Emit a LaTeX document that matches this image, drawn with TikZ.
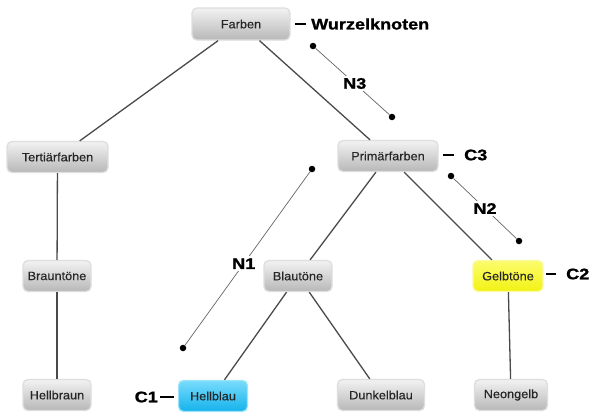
\documentclass[tikz,border=0pt]{standalone}
\usepackage{fontspec}
\setmainfont{Liberation Sans}
\newfontfamily\lblfont{Liberation Sans Bold}[FakeStretch=1.18, FakeBold=1.2]
\newfontfamily\boxfont{Liberation Sans}[FakeStretch=1.06, FakeBold=0.4]
\definecolor{edgecol}{HTML}{4A4A4A}
\definecolor{boxtext}{HTML}{262626}
\begin{document}
\begin{tikzpicture}[x=1pt,y=-1pt,
  box/.style={rounded corners=5pt, minimum height=31pt, inner sep=0pt,
    top color=black!5, bottom color=black!28, draw=black!13, line width=1.3pt,
    font=\boxfont\fontsize{12}{14}\selectfont, text=boxtext},
  bluebox/.style={box, top color={rgb,255:red,120;green,220;blue,252}, bottom color={rgb,255:red,20;green,178;blue,236},
    draw={rgb,255:red,160;green,228;blue,250}, text=black!85},
  yellowbox/.style={box, top color={rgb,255:red,252;green,252;blue,110}, bottom color={rgb,255:red,242;green,242;blue,20},
    draw={rgb,255:red,250;green,250;blue,160}, text=black!85},
  edge/.style={draw=edgecol, line width=1.3pt},
  lbl/.style={font=\lblfont\fontsize{15.3}{17}\selectfont, text=black, inner sep=0pt},
  nlbl/.style={lbl, fill=white, inner sep=2pt},
  dot/.style={circle, fill=black, minimum size=6.5pt, inner sep=0pt},
  annot/.style={draw=black!60, line width=0.7pt},
  tick/.style={draw=black, line width=1.9pt}
]
\useasboundingbox (0,0) rectangle (590,415);
\fill[white] (0,0) rectangle (590,415);

% nodes
\node[box, minimum width=98pt, minimum height=32pt] (farben) at (241,24) {Farben};
\node[box, minimum width=101pt] (tert) at (57.5,157) {Tertiärfarben};
\node[box, minimum width=100pt] (prim) at (388,156) {Primärfarben};
\node[box, minimum width=68pt] (braun) at (57,276) {Brauntöne};
\node[box, minimum width=68pt] (blau) at (298,276) {Blautöne};
\node[yellowbox, minimum width=70pt] (gelb) at (508,276) {Gelbtöne};
\node[box, minimum width=68pt] (hbraun) at (57,395) {Hellbraun};
\node[bluebox, minimum width=69pt] (hblau) at (213,396) {Hellblau};
\node[box, minimum width=87pt] (dblau) at (381,395) {Dunkelblau};
\node[box, minimum width=73pt] (neon) at (511,395) {Neongelb};

% edges
\draw[edge] (farben) -- (tert);
\draw[edge] (farben) -- (prim);
\draw[edge] (tert) -- (braun);
\draw[edge] (braun) -- (hbraun);
\draw[edge] (prim) -- (blau);
\draw[edge] (prim) -- (gelb);
\draw[edge] (blau) -- (hblau);
\draw[edge] (blau) -- (dblau);
\draw[edge] (gelb) -- (neon);

% annotation labels with dashes
\node[lbl, anchor=west] (wk) at (311,24) {Wurzelknoten};
\draw[tick] ([xshift=-5pt]wk.west) -- ++(-11,0);
\node[lbl, anchor=west] (c3) at (464,155) {C3};
\draw[tick] ([xshift=-10pt]c3.west) -- ++(-11,0);
\node[lbl, anchor=west] (c2) at (566,274) {C2};
\draw[tick] ([xshift=-10pt]c2.west) -- ++(-10,0);
\node[lbl, anchor=east] (c1) at (158,397) {C1};
\draw[tick] ([xshift=2pt]c1.east) -- ++(14,0);

% N annotations
\node[dot] (n3a) at (313,46) {};
\node[dot] (n3b) at (392,117) {};
\draw[annot] (n3a) -- node[nlbl, pos=0.53] {N3} (n3b);
\node[dot] (n2a) at (451,176) {};
\node[dot] (n2b) at (519,241) {};
\draw[annot] (n2a) -- node[nlbl, pos=0.5] {N2} (n2b);
\node[dot] (n1a) at (312,169) {};
\node[dot] (n1b) at (183,348) {};
\draw[annot] (n1a) -- node[nlbl, pos=0.53] {N1} (n1b);
\end{tikzpicture}
\end{document}
